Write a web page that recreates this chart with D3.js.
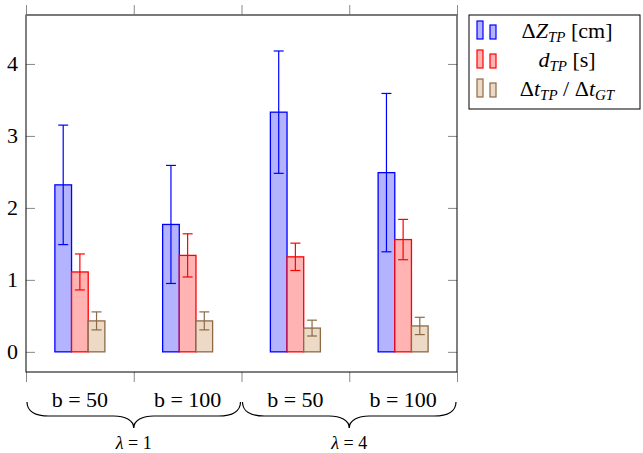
<!DOCTYPE html>
<html>
<head>
<meta charset="utf-8">
<script src="https://cdn.jsdelivr.net/npm/d3@7"></script>
<style>
  body { margin: 0; background: #fff; }
</style>
</head>
<body>
<div id="chart"></div>
<script>
// data
const categories = ["b = 50", "b = 100", "b = 50", "b = 100"];
const groupLabels = ["1", "4"];
const dZ = [2.32, 1.77, 3.33, 2.49];
const dZErr = [0.83, 0.82, 0.85, 1.10];
const dTP = [1.11, 1.34, 1.32, 1.56];
const dTPErr = [0.25, 0.30, 0.19, 0.28];
const ratio = [0.43, 0.43, 0.33, 0.36];
const ratioErr = [0.125, 0.125, 0.11, 0.12];
const yTicks = [0, 1, 2, 3, 4];
const yLimits = [-0.28, 4.68];

const series = [
  { key: "dz", values: dZ, err: dZErr, fill: "#b3b3ff", stroke: "#0000ff" },
  { key: "dtp", values: dTP, err: dTPErr, fill: "#ffb3b3", stroke: "#ff0000" },
  { key: "ratio", values: ratio, err: ratioErr, fill: "#ecd9c6", stroke: "#8c6a48" }
];

const serif = "'Liberation Serif', 'DejaVu Serif', 'Times New Roman', serif";

let width = 643, height = 453;
let margin = { top: 15, bottom: 81, left: 26, right: 186 };
let plotRight = width - margin.right, plotBottom = height - margin.bottom;

let svg = d3.select("#chart").append("svg")
  .attr("width", width)
  .attr("height", height)
  .attr("font-family", serif);

const ids = categories.map((c, i) => i);

const x0 = d3.scaleBand()
  .domain(ids)
  .range([margin.left, plotRight])
  .padding(0);

const x1 = d3.scaleBand()
  .domain(series.map(s => s.key))
  .range([x0.bandwidth() / 2 - 25, x0.bandwidth() / 2 + 25]);

const y = d3.scaleLinear()
  .domain(yLimits)
  .range([plotBottom, margin.top]);

// axis ticks
svg.append("g")
  .attr("transform", `translate(${margin.left},0)`)
  .call(d3.axisLeft(y).tickValues(yTicks).tickSize(-9).tickPadding(8).tickFormat(d3.format("d")))
  .attr("font-family", serif)
  .call(g => g.select(".domain").remove())
  .call(g => g.selectAll("line").attr("stroke", "#888"))
  .call(g => g.selectAll("text").attr("font-size", 22).attr("fill", "#000"));

svg.append("g")
  .attr("transform", `translate(${plotRight},0)`)
  .call(d3.axisRight(y).tickValues(yTicks).tickSize(-9).tickFormat(""))
  .call(g => g.select(".domain").remove())
  .call(g => g.selectAll("line").attr("stroke", "#888"));

const bounds = ids.map(i => x0(i)).concat([plotRight]);
const xEdge = d3.scaleIdentity();

svg.append("g")
  .attr("transform", `translate(0,${plotBottom})`)
  .call(d3.axisBottom(xEdge).tickValues(bounds).tickSize(10).tickFormat(""))
  .call(g => g.select(".domain").remove())
  .call(g => g.selectAll("line").attr("stroke", "#888"));

svg.append("g")
  .attr("transform", `translate(0,${margin.top})`)
  .call(d3.axisTop(xEdge).tickValues(bounds).tickSize(10).tickFormat(""))
  .call(g => g.select(".domain").remove())
  .call(g => g.selectAll("line").attr("stroke", "#888"));

// bars
series.forEach(s => {
  const g = svg.append("g");
  g.selectAll("rect")
    .data(ids)
    .enter()
    .append("rect")
    .attr("x", i => x0(i) + x1(s.key))
    .attr("y", i => y(s.values[i]))
    .attr("width", x1.bandwidth())
    .attr("height", i => y(0) - y(s.values[i]))
    .attr("fill", s.fill)
    .attr("stroke", s.stroke)
    .attr("stroke-width", 1.3);

  // error bars
  ids.forEach(i => {
    const cx = x0(i) + x1(s.key) + x1.bandwidth() / 2;
    const hi = y(s.values[i] + s.err[i]), lo = y(s.values[i] - s.err[i]);
    g.append("line").attr("x1", cx).attr("x2", cx).attr("y1", hi).attr("y2", lo)
      .attr("stroke", s.stroke).attr("stroke-width", 1.2);
    [hi, lo].forEach(v => {
      g.append("line").attr("x1", cx - 5).attr("x2", cx + 5).attr("y1", v).attr("y2", v)
        .attr("stroke", s.stroke).attr("stroke-width", 1.2);
    });
  });
});

// frame
svg.append("rect")
  .attr("x", margin.left).attr("y", margin.top)
  .attr("width", plotRight - margin.left).attr("height", plotBottom - margin.top)
  .attr("fill", "none").attr("stroke", "#000").attr("stroke-width", 1);
svg.append("line")
  .attr("x1", margin.left).attr("x2", plotRight)
  .attr("y1", margin.top).attr("y2", margin.top)
  .attr("stroke", "#777").attr("stroke-width", 1.5);

// category labels
svg.append("g").selectAll("text")
  .data(ids)
  .enter()
  .append("text")
  .attr("x", i => x0(i) + x0.bandwidth() / 2)
  .attr("y", 407)
  .attr("text-anchor", "middle")
  .attr("font-size", 22)
  .text(i => categories[i]);

// braces under each pair
groupLabels.forEach((label, k) => {
  const a = x0(k * 2) + 1, b = x0(k * 2 + 1) + x0.bandwidth() - 1;
  const c = (a + b) / 2, y0 = 402, ym = 416, yt = 428;
  const p = `M${a},${y0} C${a},${y0 + 9} ${a + 8},${ym} ${a + 22},${ym}`
    + ` L${c - 20},${ym} C${c - 9},${ym} ${c},${ym + 4} ${c},${yt}`
    + ` C${c},${ym + 4} ${c + 9},${ym} ${c + 20},${ym}`
    + ` L${b - 22},${ym} C${b - 8},${ym} ${b},${y0 + 9} ${b},${y0}`;
  svg.append("path").attr("d", p).attr("fill", "none")
    .attr("stroke", "#000").attr("stroke-width", 1.2);
  const t = svg.append("text")
    .attr("x", c).attr("y", 449)
    .attr("text-anchor", "middle")
    .attr("font-size", 18);
  t.append("tspan").attr("font-style", "italic").text("λ");
  t.append("tspan").text(" = " + label);
});

// legend
const legend = svg.append("g").attr("transform", "translate(469,15)");
legend.append("rect")
  .attr("width", 171).attr("height", 94)
  .attr("fill", "#fff").attr("stroke", "#000").attr("stroke-width", 1);

const legendText = [
  [["Δ", "n"], ["Z", "i"], ["TP", "s"], [" [cm]", "n"]],
  [["d", "i"], ["TP", "s"], [" [s]", "n"]],
  [["Δ", "n"], ["t", "i"], ["TP", "s"], [" / Δ", "n"], ["t", "i"], ["GT", "s"]]
];

series.forEach((s, i) => {
  const row = legend.append("g").attr("transform", `translate(0,${i * 29})`);
  row.append("rect").attr("x", 8).attr("y", 6).attr("width", 6).attr("height", 18)
    .attr("fill", s.fill).attr("stroke", s.stroke).attr("stroke-width", 1.2);
  row.append("rect").attr("x", 21).attr("y", 10).attr("width", 6).attr("height", 14)
    .attr("fill", s.fill).attr("stroke", s.stroke).attr("stroke-width", 1.2);
  const t = row.append("text")
    .attr("x", 98).attr("y", 23)
    .attr("text-anchor", "middle")
    .attr("font-size", 22);
  let prevSub = false;
  legendText[i].forEach(([str, kind]) => {
    const sp = t.append("tspan").text(str);
    if (kind === "i") sp.attr("font-style", "italic");
    if (kind === "s") {
      sp.attr("font-style", "italic").attr("font-size", 15).attr("dy", 4);
    } else if (prevSub) {
      sp.attr("dy", -4);
    }
    prevSub = kind === "s";
  });
});
</script>
</body>
</html>
